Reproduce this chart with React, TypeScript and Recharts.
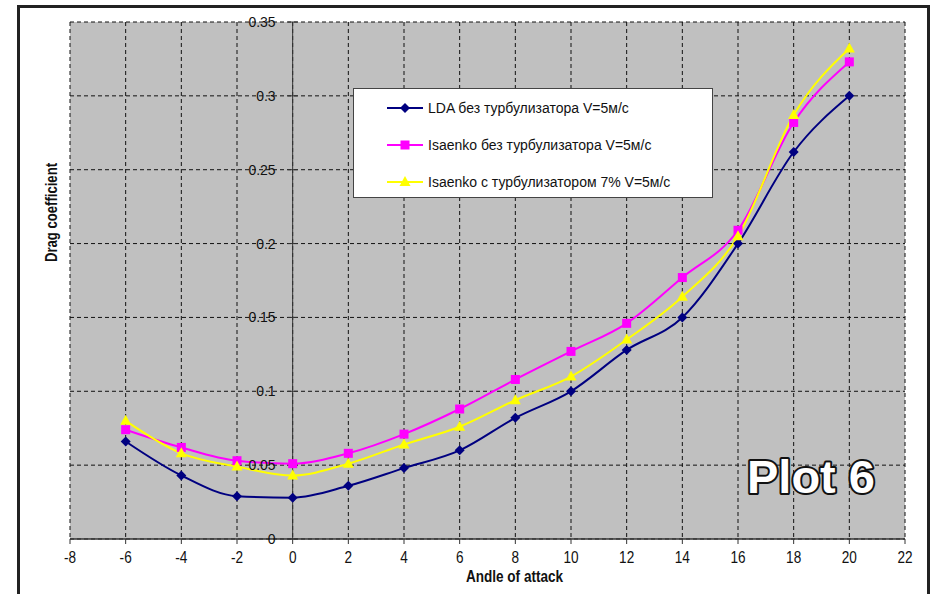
import React from 'react'
import { LineChart, Line, XAxis, YAxis, CartesianGrid, ReferenceLine, ReferenceDot } from 'recharts'

// Angles of attack, degrees
const angles = [-6, -4, -2, 0, 2, 4, 6, 8, 10, 12, 14, 16, 18, 20]

// Drag coefficient per series
const ldaNoTurb = [0.066, 0.043, 0.029, 0.028, 0.036, 0.048, 0.06, 0.082, 0.1, 0.128, 0.15, 0.2, 0.262, 0.3]
const isaenkoNoTurb = [0.074, 0.062, 0.053, 0.051, 0.058, 0.071, 0.088, 0.108, 0.127, 0.146, 0.177, 0.209, 0.282, 0.323]
const isaenkoTurb7 = [0.08, 0.058, 0.049, 0.043, 0.051, 0.064, 0.076, 0.094, 0.11, 0.135, 0.164, 0.205, 0.287, 0.332]

const xTicks = [-8, -6, -4, -2, 0, 2, 4, 6, 8, 10, 12, 14, 16, 18, 20, 22]
const yTicks = [0, 0.05, 0.1, 0.15, 0.2, 0.25, 0.3, 0.35]

const SERIES = [
  { key: 'lda', name: 'LDA без турбулизатора V=5м/с', color: '#000080', marker: 'diamond' },
  { key: 'isNo', name: 'Isaenko без турбулизатора V=5м/с', color: '#FF00FF', marker: 'square' },
  { key: 'isTurb', name: 'Isaenko с турбулизатором 7% V=5м/с', color: '#FFFF00', marker: 'triangle' },
]

const data = angles.map((a, i) => ({
  angle: a,
  lda: ldaNoTurb[i],
  isNo: isaenkoNoTurb[i],
  isTurb: isaenkoTurb7[i],
}))

const SANS = "'Liberation Sans', Arial, sans-serif"

function Marker({ kind, cx, cy, color }: { kind: string; cx: number; cy: number; color: string }) {
  if (kind === 'diamond') {
    return <polygon points={`${cx},${cy - 5} ${cx + 5},${cy} ${cx},${cy + 5} ${cx - 5},${cy}`} fill={color} />
  }
  if (kind === 'square') {
    return <rect x={cx - 4.5} y={cy - 4.5} width={9} height={9} fill={color} />
  }
  return <polygon points={`${cx},${cy - 6} ${cx + 5.5},${cy + 4} ${cx - 5.5},${cy + 4}`} fill={color} />
}

// y axis sits at x = 0, so its ticks are drawn as reference dots
function YTick(props: any) {
  const { cx, cy, label } = props
  return (
    <g>
      <line x1={cx - 5} x2={cx + 5} y1={cy} y2={cy} stroke="#333" />
      <text x={cx - 17} y={cy} textAnchor="end" dominantBaseline="central" fontSize={14} fontFamily={SANS} fill="#111">
        {label}
      </text>
    </g>
  )
}

// narrow-looking x tick labels
function XTick(props: any) {
  const { x, y, payload } = props
  return (
    <text
      x={x}
      y={y}
      dy="0.71em"
      textAnchor="middle"
      fontSize={16}
      fontFamily={SANS}
      fill="#111"
      transform={`translate(${x} 0) scale(0.85 1) translate(${-x} 0)`}
    >
      {payload.value}
    </text>
  )
}

export default function App() {
  return (
    <div style={{ position: 'absolute', left: 0, top: 0, width: 935, height: 594, background: '#fff', overflow: 'hidden' }}>
      <div
        style={{
          position: 'absolute',
          left: 17,
          top: 5,
          width: 907,
          height: 620,
          border: '3px solid #222',
        }}
      />
      <div style={{ position: 'absolute', left: 0, top: 0 }}>
        <LineChart width={935} height={594} data={data} margin={{ top: 22, right: 30, bottom: 25, left: 70 }}>
          <CartesianGrid
            stroke="#111"
            strokeDasharray="4 3"
            fill="#C0C0C0"
            fillOpacity={1}
          />
          <XAxis
            dataKey="angle"
            type="number"
            domain={[-8, 22]}
            ticks={xTicks}
            height={30}
            axisLine={{ stroke: '#333', strokeWidth: 1.5 }}
            tickLine={{ stroke: '#333' }}
            tickSize={5}
            tickMargin={8}
            tick={<XTick />}
            interval={0}
          />
          <YAxis hide type="number" domain={[0, 0.35]} ticks={yTicks} />
          <ReferenceLine x={0} stroke="#333" strokeWidth={1} ifOverflow="extendDomain" />
          {yTicks.map((t) => (
            <ReferenceDot
              key={t}
              x={0}
              y={t}
              r={0}
              ifOverflow="visible"
              shape={(p: any) => <YTick {...p} label={String(t)} />}
            />
          ))}
          {SERIES.map((s) => (
            <Line
              key={s.key}
              type="monotone"
              dataKey={s.key}
              name={s.name}
              stroke={s.color}
              strokeWidth={2}
              isAnimationActive={false}
              dot={(p: any) => <Marker key={`${s.key}-${p.index}`} kind={s.marker} cx={p.cx} cy={p.cy} color={s.color} />}
              activeDot={false}
            />
          ))}
        </LineChart>
      </div>

      {/* legend box */}
      <div
        style={{
          position: 'absolute',
          left: 353,
          top: 88,
          width: 358,
          height: 108,
          background: '#fff',
          border: '1px solid #444',
        }}
      >
        {SERIES.map((s) => (
          <div key={s.key} style={{ height: 37, display: 'flex', alignItems: 'center', paddingLeft: 33 }}>
            <svg width={36} height={14} style={{ flex: 'none' }}>
              <line x1={0} x2={36} y1={7} y2={7} stroke={s.color} strokeWidth={2} />
              <Marker kind={s.marker} cx={18} cy={7} color={s.color} />
            </svg>
            <span style={{ marginLeft: 5, fontFamily: SANS, fontSize: 14, color: '#111', whiteSpace: 'nowrap' }}>
              {s.name}
            </span>
          </div>
        ))}
      </div>

      {/* titles and annotation */}
      <svg width={935} height={594} style={{ position: 'absolute', left: 0, top: 0, pointerEvents: 'none' }}>
        <text
          x={466}
          y={582}
          textLength={97}
          lengthAdjust="spacingAndGlyphs"
          fontFamily={SANS}
          fontWeight="bold"
          fontSize={16}
          fill="#111"
        >
          Andle of attack
        </text>
        <text
          transform="translate(57, 262) rotate(-90)"
          textLength={99}
          lengthAdjust="spacingAndGlyphs"
          fontFamily={SANS}
          fontWeight="bold"
          fontSize={16}
          fill="#111"
        >
          Drag coefficient
        </text>
        <text
          x={747}
          y={493}
          fontFamily={SANS}
          fontWeight="bold"
          fontSize={47}
          fill="#fff"
          stroke="#111"
          strokeWidth={4}
          strokeLinejoin="round"
          style={{ paintOrder: 'stroke' }}
        >
          Plot 6
        </text>
      </svg>
    </div>
  )
}
